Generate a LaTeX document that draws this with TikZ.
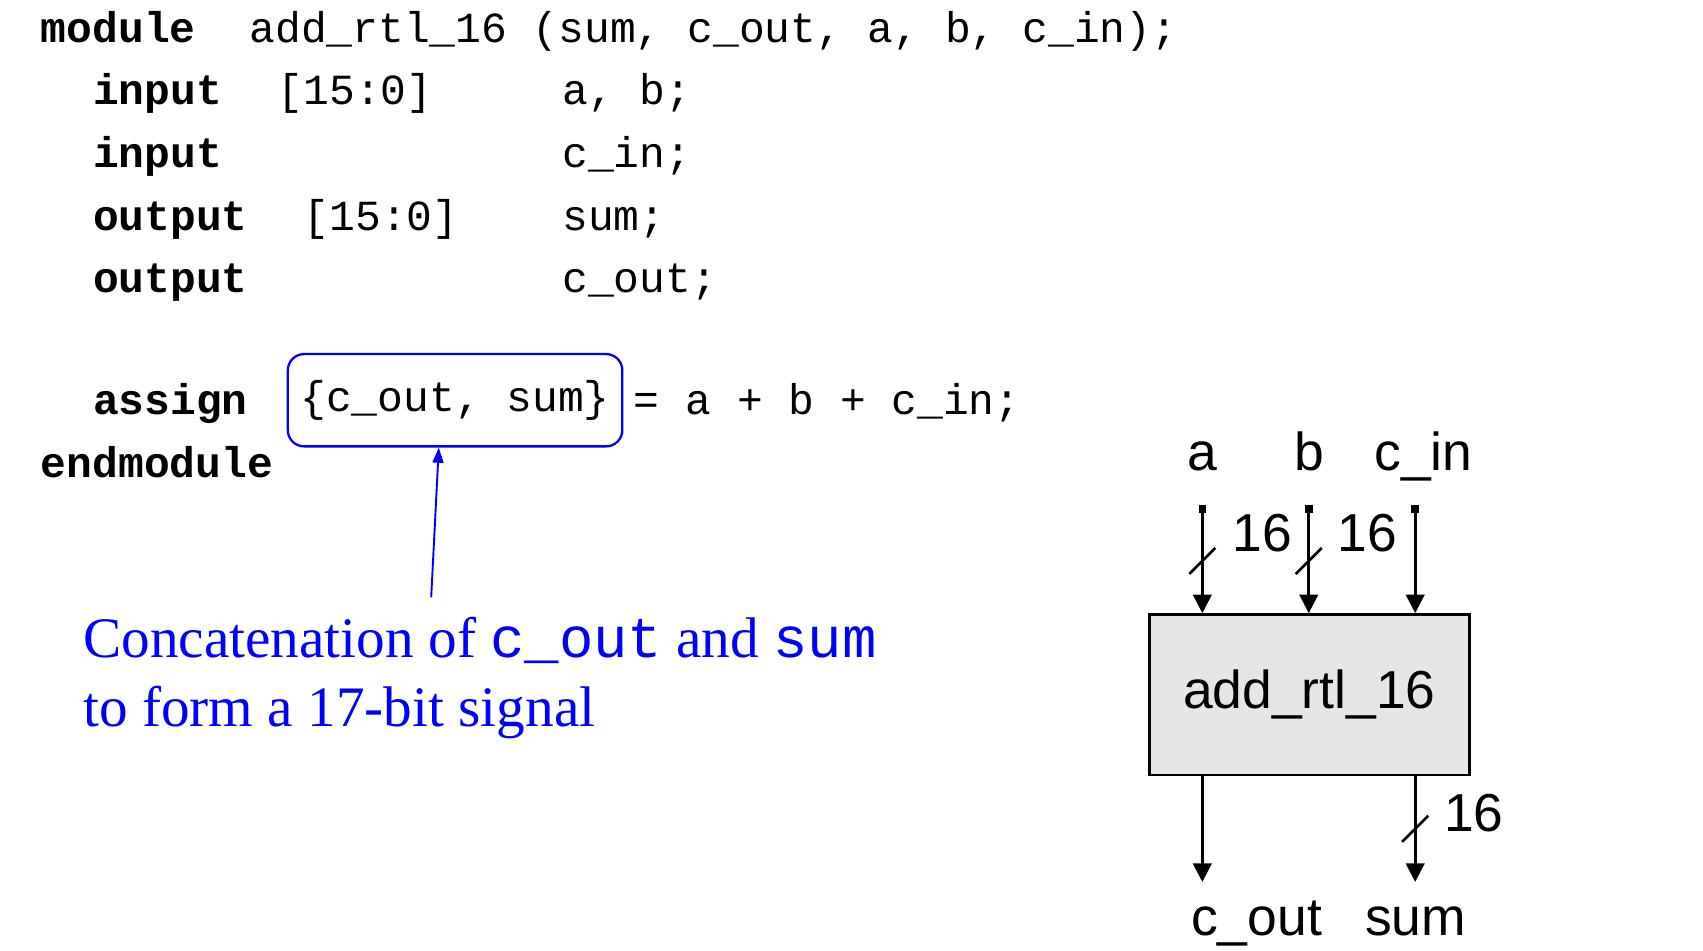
\documentclass[tikz,border=0pt]{standalone}
\usepackage{fontspec}
\setmainfont{Liberation Serif}
\setsansfont{Liberation Sans}
\setmonofont{Liberation Mono}
\usetikzlibrary{arrows.meta}
\definecolor{boxgray}{RGB}{230,230,230}
\definecolor{noteblue}{RGB}{0,0,255}

\tikzset{
	code/.style = {font=\fontsize{11.25}{13}\selectfont\ttfamily, anchor=base west, inner sep=0pt},
	kw/.style = {code, font=\fontsize{11.25}{13}\selectfont\ttfamily\bfseries},
	sig/.style = {font=\fontsize{14}{16}\selectfont\sffamily, anchor=base, inner sep=0pt},
	note/.style = {font=\fontsize{15}{18}\selectfont, text=noteblue, anchor=base west, inner sep=0pt},
	wire/.style = {line width=0.7pt, -{Triangle[length=1.7mm, width=1.7mm]}},
	inwire/.style = {line width=0.7pt, {Square[length=0.7mm, width=0.7mm]}-{Triangle[length=1.7mm, width=1.7mm]}},
}

\begin{document}
\begin{tikzpicture}
	\useasboundingbox (0,0) rectangle (15.68,-8.75);

	% verilog source
	\node [kw] (kwmodule) at (0.37,-0.39) {module};
	\node [code] (modhead) at (2.29,-0.39) {add\_rtl\_16 (sum, c\_out, a, b, c\_in);};

	\node [kw] (kwinab) at (0.85,-0.965) {input};
	\node [code] (rangeab) at (2.55,-0.965) {[15:0]};
	\node [code] (portab) at (5.17,-0.965) {a, b;};

	\node [kw] (kwincin) at (0.85,-1.54) {input};
	\node [code] (portcin) at (5.17,-1.54) {c\_in;};

	\node [kw] (kwoutsum) at (0.85,-2.12) {output};
	\node [code] (rangesum) at (2.79,-2.12) {[15:0]};
	\node [code] (portsum) at (5.17,-2.12) {sum;};

	\node [kw] (kwoutcout) at (0.85,-2.695) {output};
	\node [code] (portcout) at (5.17,-2.695) {c\_out;};

	\node [kw] (kwassign) at (0.85,-3.815) {assign};
	\node [code, anchor=center, draw=noteblue, line width=0.6pt, rounded corners=0.15cm, minimum width=3.08cm, minimum height=0.85cm] (concat) at (4.19,-3.685) {\{c\_out, sum\}};
	\node [code] (rhs) at (5.83,-3.815) {= a + b + c\_in;};

	\node [kw] (kwend) at (0.37,-4.395) {endmodule};

	% note
	\node [note] (notea) at (0.76,-6.05) {Concatenation of {\ttfamily\fontsize{15}{18}\selectfont c\_out} and {\ttfamily\fontsize{15}{18}\selectfont sum}};
	\node [note] (noteb) at (0.76,-6.69) {to form a 17-bit signal};
	\coordinate (tail) at (3.97,-5.50);
	\draw [noteblue, line width=0.5pt, -{Triangle[length=1.4mm, width=1mm]}] (tail) -- ([xshift=-1.5mm]concat.south);

	% block
	\node [draw, fill=boxgray, line width=0.7pt, minimum width=2.946cm, minimum height=1.479cm, font=\fontsize{14}{16}\selectfont\sffamily] (adder) at (12.056,-6.397) {add\_rtl\_16};

	\node [sig] (lbla) at (11.07,-4.33) {a};
	\node [sig] (lblb) at (12.056,-4.33) {b};
	\node [sig] (lblcin) at (13.106,-4.33) {c\_in};

	\coordinate (ina) at (11.07,-4.65);
	\coordinate (inb) at (12.05,-4.65);
	\coordinate (incin) at (13.03,-4.65);
	\draw [inwire] (ina) -- (ina |- adder.north);
	\draw [inwire] (inb) -- (inb |- adder.north);
	\draw [inwire] (incin) -- (incin |- adder.north);

	\coordinate (outcout) at (11.07,-8.12);
	\coordinate (outsum) at (13.03,-8.12);
	\draw [wire] (outcout |- adder.south) -- (outcout);
	\draw [wire] (outsum |- adder.south) -- (outsum);

	\node [sig] (lblcout) at (11.57,-8.61) {c\_out};
	\node [sig] (lblsum) at (13.035,-8.61) {sum};

	% bus widths
	\draw [line width=0.7pt] (11.07,-5.165) ++(-0.12,-0.12) -- ++(0.24,0.24);
	\draw [line width=0.7pt] (12.05,-5.165) ++(-0.12,-0.12) -- ++(0.24,0.24);
	\draw [line width=0.7pt] (13.03,-7.63) ++(-0.12,-0.12) -- ++(0.24,0.24);
	\node [sig, anchor=base west] (widtha) at (11.34,-5.08) {16};
	\node [sig, anchor=base west] (widthb) at (12.31,-5.08) {16};
	\node [sig, anchor=base west] (widthsum) at (13.29,-7.66) {16};
\end{tikzpicture}
\end{document}
